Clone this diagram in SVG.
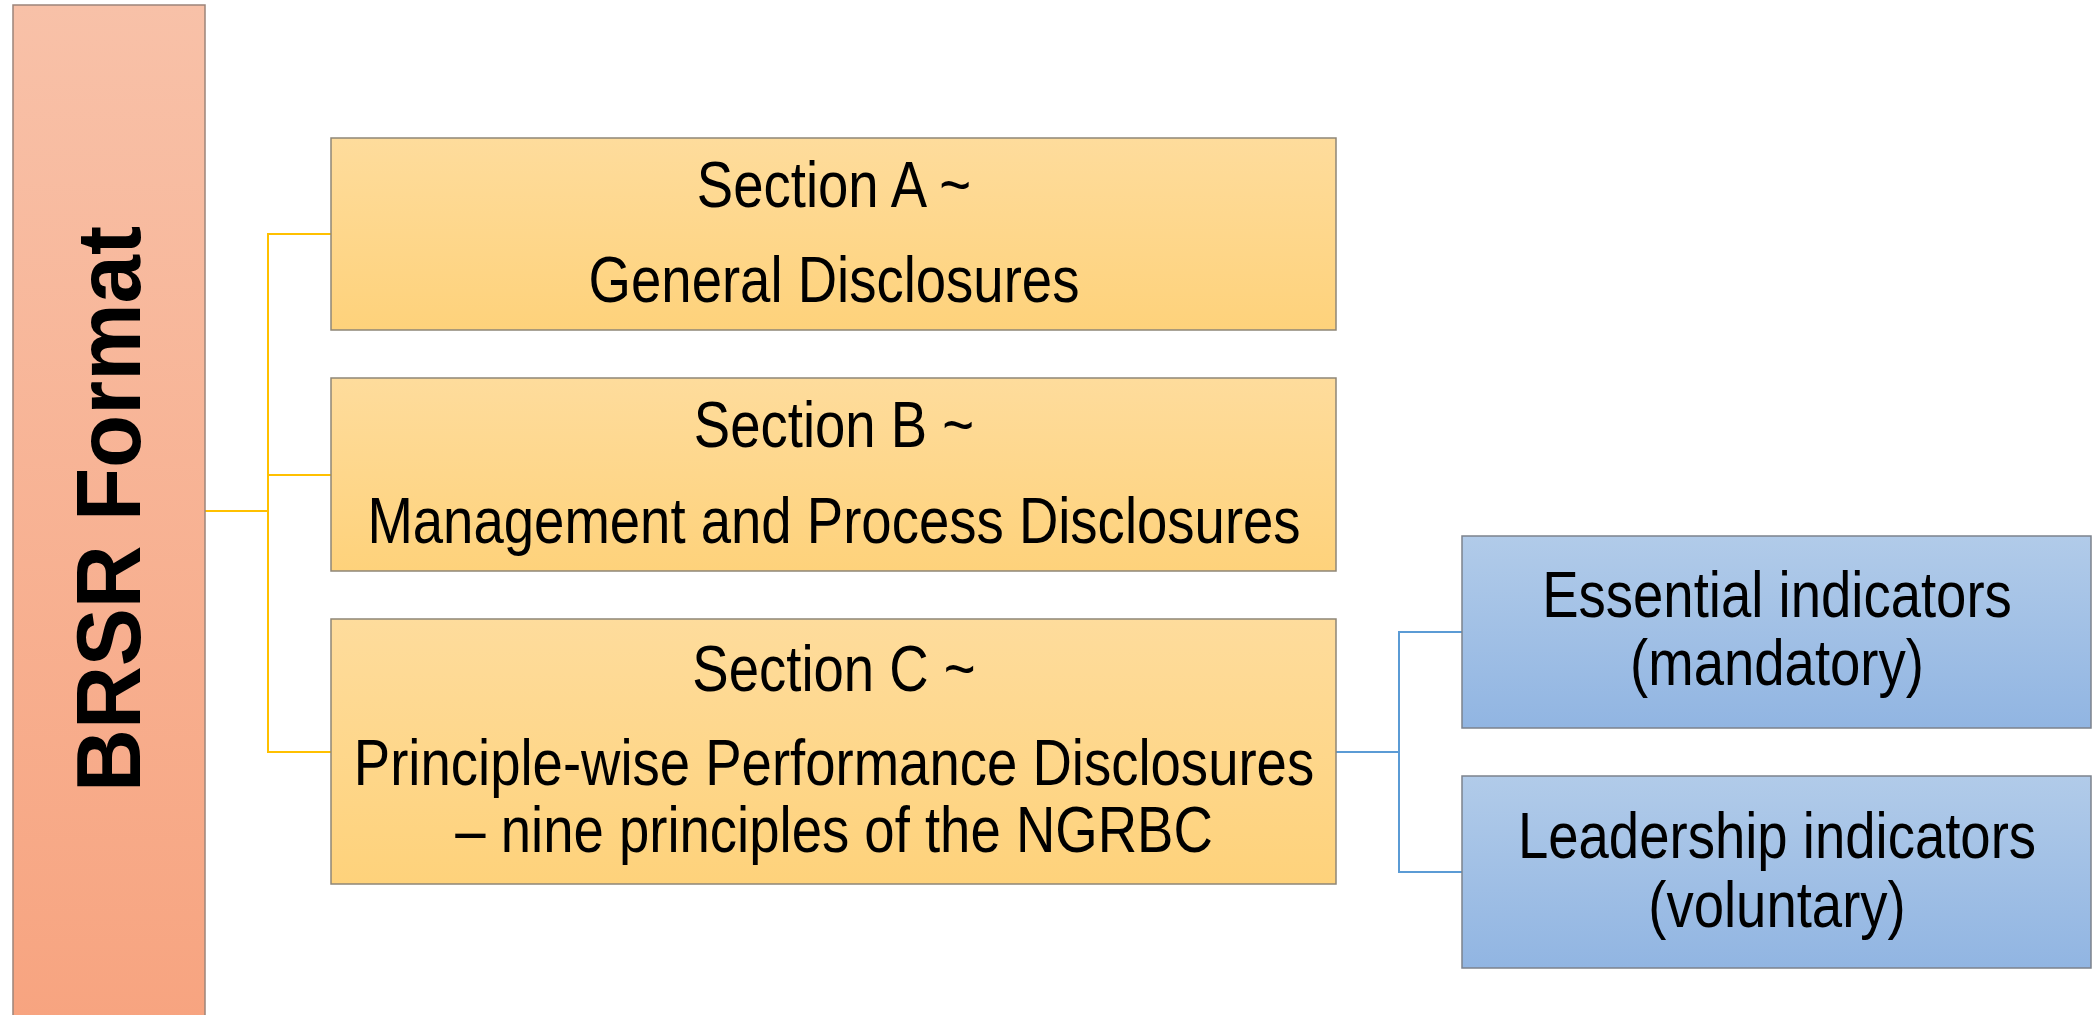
<svg xmlns="http://www.w3.org/2000/svg" width="2093" height="1015" viewBox="0 0 2093 1015">
  <defs>
    <linearGradient id="gRoot" x1="0" y1="0" x2="0" y2="1">
      <stop offset="0" stop-color="#F8C1A8"/>
      <stop offset="1" stop-color="#F7A480"/>
    </linearGradient>
    <linearGradient id="gSection" x1="0" y1="0" x2="0" y2="1">
      <stop offset="0" stop-color="#FEDC9C"/>
      <stop offset="1" stop-color="#FED27B"/>
    </linearGradient>
    <linearGradient id="gIndicator" x1="0" y1="0" x2="0" y2="1">
      <stop offset="0" stop-color="#B1CBE9"/>
      <stop offset="1" stop-color="#91B5E2"/>
    </linearGradient>
  </defs>
  <style>
    .root { fill: url(#gRoot); stroke: #9C8479; stroke-width: 1.5; }
    .section { fill: url(#gSection); stroke: #8E8677; stroke-width: 1.5; }
    .indicator { fill: url(#gIndicator); stroke: #7C828C; stroke-width: 1.5; }
    .label { font-family: "Liberation Sans", Arial, sans-serif; font-size: 64px; fill: #000; text-anchor: middle; }
    .title { font-family: "Liberation Sans", Arial, sans-serif; font-size: 90px; font-weight: bold; fill: #000; text-anchor: middle; }
    .yellow { fill: none; stroke: #FFC000; stroke-width: 2; }
    .blue { fill: none; stroke: #5B9BD5; stroke-width: 2; }
  </style>

  <rect width="2093" height="1015" fill="#FFFFFF"/>

  <!-- connectors -->
  <g id="connectors">
    <polyline class="yellow" points="205,511 268,511"/>
    <polyline class="yellow" points="331,234 268,234 268,752 331,752"/>
    <polyline class="yellow" points="268,475 331,475"/>
    <polyline class="blue" points="1336,752 1399,752"/>
    <polyline class="blue" points="1462,632 1399,632 1399,872 1462,872"/>
  </g>

  <!-- root: BRSR Format -->
  <g id="brsr-format">
    <rect class="root" x="13" y="5" width="192" height="1014"/>
    <text class="title" transform="translate(140,509) rotate(-90)" x="0" y="0" textLength="566" lengthAdjust="spacingAndGlyphs">BRSR Format</text>
  </g>

  <!-- Section A -->
  <g id="section-a">
    <rect class="section" x="331" y="138" width="1005" height="192"/>
    <text class="label" transform="translate(834,0) scale(0.852,1)" x="0" y="207">Section A ~</text>
    <text class="label" transform="translate(834,0) scale(0.852,1)" x="0" y="302">General Disclosures</text>
  </g>

  <!-- Section B -->
  <g id="section-b">
    <rect class="section" x="331" y="378" width="1005" height="193"/>
    <text class="label" transform="translate(834,0) scale(0.852,1)" x="0" y="447">Section B ~</text>
    <text class="label" transform="translate(834,0) scale(0.852,1)" x="0" y="543">Management and Process Disclosures</text>
  </g>

  <!-- Section C -->
  <g id="section-c">
    <rect class="section" x="331" y="619" width="1005" height="265"/>
    <text class="label" transform="translate(834,0) scale(0.852,1)" x="0" y="691">Section C ~</text>
    <text class="label" transform="translate(834,0) scale(0.852,1)" x="0" y="785">Principle-wise Performance Disclosures</text>
    <text class="label" transform="translate(834,0) scale(0.852,1)" x="0" y="852">– nine principles of the NGRBC</text>
  </g>

  <!-- Essential indicators -->
  <g id="essential-indicators">
    <rect class="indicator" x="1462" y="536" width="629" height="192"/>
    <text class="label" transform="translate(1777,0) scale(0.852,1)" x="0" y="617">Essential indicators</text>
    <text class="label" transform="translate(1777,0) scale(0.852,1)" x="0" y="685">(mandatory)</text>
  </g>

  <!-- Leadership indicators -->
  <g id="leadership-indicators">
    <rect class="indicator" x="1462" y="776" width="629" height="192"/>
    <text class="label" transform="translate(1777,0) scale(0.852,1)" x="0" y="858">Leadership indicators</text>
    <text class="label" transform="translate(1777,0) scale(0.852,1)" x="0" y="927">(voluntary)</text>
  </g>
</svg>
